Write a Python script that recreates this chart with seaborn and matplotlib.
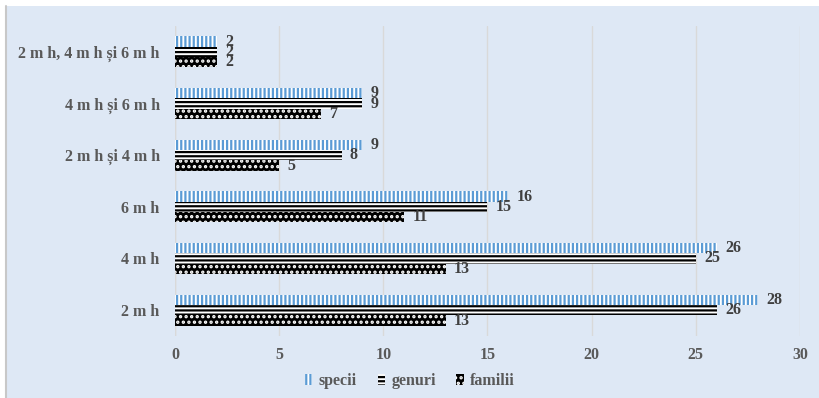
import matplotlib
matplotlib.use("Agg")
import matplotlib.pyplot as plt
import seaborn as sns
import pandas as pd
from matplotlib.lines import Line2D
from matplotlib.patches import Rectangle

categories = ["2 m h, 4 m h și 6 m h", "4 m h și 6 m h", "2 m h și 4 m h",
              "6 m h", "4 m h", "2 m h"]
specii = [2, 9, 9, 16, 26, 28]
genuri = [2, 9, 8, 15, 25, 26]
familii = [2, 7, 5, 11, 13, 13]
series_names = ["specii", "genuri", "familii"]
x_ticks = [0, 5, 10, 15, 20, 25, 30]

rows = []
for name, vals in zip(series_names, [specii, genuri, familii]):
    for cat, v in zip(categories, vals):
        rows.append({"categorie": cat, "serie": name, "valoare": v})
df = pd.DataFrame(rows)

sns.set_theme(style="white")
plt.rcParams["font.family"] = ["Liberation Serif", "DejaVu Serif"]
plt.rcParams["hatch.linewidth"] = 1.6

label_grey = "#595959"
value_grey = "#404040"
bg = "#dee8f5"

fig = plt.figure(figsize=(8.2, 3.98), dpi=100)
fig.patch.set_facecolor("white")
# chart area background panel with a thin left border
fig.add_artist(Rectangle((6 / 820, 0), 1 - 6 / 820, 1 - 6 / 398,
                         transform=fig.transFigure, facecolor=bg,
                         edgecolor="none", zorder=-2))
fig.add_artist(Line2D([6 / 820, 6 / 820], [0, 1 - 6 / 398],
                      transform=fig.transFigure, color="#c8c8c8",
                      linewidth=1.5, zorder=-1))

ax = fig.add_axes([175 / 820, 1 - 336 / 398, 625 / 820, 310 / 398])
ax.set_facecolor("none")

sns.barplot(data=df, y="categorie", x="valoare", hue="serie",
            hue_order=series_names, order=categories, orient="h",
            width=0.6, gap=0, ax=ax, legend=False, saturation=1)

styles = [
    dict(facecolor="white", edgecolor="#5b9bd5", hatch="||||"),
    dict(facecolor="white", edgecolor="black", hatch="----"),
    dict(facecolor="black", edgecolor="white", hatch="..."),
]
for cont, st in zip(ax.containers, styles):
    for p in cont.patches:
        p.set_facecolor(st["facecolor"])
        p.set_edgecolor(st["edgecolor"])
        p.set_hatch(st["hatch"])
        p.set_linewidth(0)
    ax.bar_label(cont, padding=6, fontsize=11.5, fontweight="bold",
                 color=value_grey, family=["Liberation Serif"])

ax.set_xlim(0, 30)
ax.set_xticks(x_ticks)
ax.set_xticklabels([str(t) for t in x_ticks])
ax.grid(axis="x", color="#d9d9d9", linewidth=1)
ax.grid(axis="y", visible=False)
ax.set_axisbelow(True)
for s in ax.spines.values():
    s.set_visible(False)
ax.axvline(0, color="#d9d9d9", linewidth=1, zorder=0)
ax.set_xlabel("")
ax.set_ylabel("")
ax.tick_params(axis="x", length=0, labelsize=11.5, labelcolor=label_grey, pad=8)
ax.tick_params(axis="y", length=0, labelsize=11.5, labelcolor=label_grey, pad=11)
for t in ax.get_xticklabels() + ax.get_yticklabels():
    t.set_fontweight("bold")

handles = [c.patches[0] for c in ax.containers]
leg = fig.legend(handles, series_names, loc="center",
                 bbox_to_anchor=(0.5, 1 - 381 / 398), ncol=3, frameon=False,
                 handlelength=0.45, handleheight=0.7, handletextpad=0.4,
                 columnspacing=1.3,
                 prop={"family": "Liberation Serif", "weight": "bold", "size": 11.5})
for t in leg.get_texts():
    t.set_color(label_grey)

fig.savefig("out.png", dpi=100, facecolor=fig.get_facecolor())
